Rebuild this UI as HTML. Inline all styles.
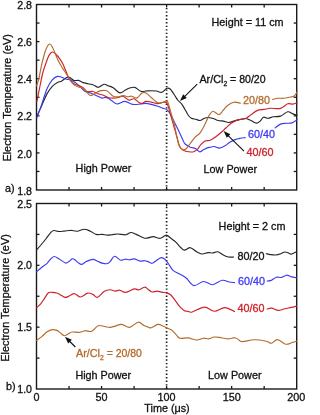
<!DOCTYPE html>
<html><head><meta charset="utf-8"><style>
html,body{margin:0;padding:0;background:#fff;width:306px;height:415px;overflow:hidden;}
svg{will-change:transform;}
text{font-family:"Liberation Sans", sans-serif;stroke-width:0.3px;}
</style></head><body><svg width="306" height="415" viewBox="0 0 306 415" style="display:block;font-family:'Liberation Sans', sans-serif"><rect x="36.50" y="4.50" width="260.20" height="185.50" fill="none" stroke="#1a1a1a" stroke-width="1.40"/><line x1="69.03" y1="190.00" x2="69.03" y2="187.00" stroke="#1a1a1a" stroke-width="1.3"/><line x1="69.03" y1="4.50" x2="69.03" y2="7.50" stroke="#1a1a1a" stroke-width="1.3"/><line x1="101.55" y1="190.00" x2="101.55" y2="187.00" stroke="#1a1a1a" stroke-width="1.3"/><line x1="101.55" y1="4.50" x2="101.55" y2="7.50" stroke="#1a1a1a" stroke-width="1.3"/><line x1="134.07" y1="190.00" x2="134.07" y2="187.00" stroke="#1a1a1a" stroke-width="1.3"/><line x1="134.07" y1="4.50" x2="134.07" y2="7.50" stroke="#1a1a1a" stroke-width="1.3"/><line x1="166.60" y1="190.00" x2="166.60" y2="187.00" stroke="#1a1a1a" stroke-width="1.3"/><line x1="166.60" y1="4.50" x2="166.60" y2="7.50" stroke="#1a1a1a" stroke-width="1.3"/><line x1="199.12" y1="190.00" x2="199.12" y2="187.00" stroke="#1a1a1a" stroke-width="1.3"/><line x1="199.12" y1="4.50" x2="199.12" y2="7.50" stroke="#1a1a1a" stroke-width="1.3"/><line x1="231.65" y1="190.00" x2="231.65" y2="187.00" stroke="#1a1a1a" stroke-width="1.3"/><line x1="231.65" y1="4.50" x2="231.65" y2="7.50" stroke="#1a1a1a" stroke-width="1.3"/><line x1="264.18" y1="190.00" x2="264.18" y2="187.00" stroke="#1a1a1a" stroke-width="1.3"/><line x1="264.18" y1="4.50" x2="264.18" y2="7.50" stroke="#1a1a1a" stroke-width="1.3"/><line x1="36.50" y1="23.05" x2="39.50" y2="23.05" stroke="#1a1a1a" stroke-width="1.3"/><line x1="296.70" y1="23.05" x2="293.70" y2="23.05" stroke="#1a1a1a" stroke-width="1.3"/><line x1="36.50" y1="41.60" x2="39.50" y2="41.60" stroke="#1a1a1a" stroke-width="1.3"/><line x1="296.70" y1="41.60" x2="293.70" y2="41.60" stroke="#1a1a1a" stroke-width="1.3"/><line x1="36.50" y1="60.15" x2="39.50" y2="60.15" stroke="#1a1a1a" stroke-width="1.3"/><line x1="296.70" y1="60.15" x2="293.70" y2="60.15" stroke="#1a1a1a" stroke-width="1.3"/><line x1="36.50" y1="78.70" x2="39.50" y2="78.70" stroke="#1a1a1a" stroke-width="1.3"/><line x1="296.70" y1="78.70" x2="293.70" y2="78.70" stroke="#1a1a1a" stroke-width="1.3"/><line x1="36.50" y1="97.25" x2="39.50" y2="97.25" stroke="#1a1a1a" stroke-width="1.3"/><line x1="296.70" y1="97.25" x2="293.70" y2="97.25" stroke="#1a1a1a" stroke-width="1.3"/><line x1="36.50" y1="115.80" x2="39.50" y2="115.80" stroke="#1a1a1a" stroke-width="1.3"/><line x1="296.70" y1="115.80" x2="293.70" y2="115.80" stroke="#1a1a1a" stroke-width="1.3"/><line x1="36.50" y1="134.35" x2="39.50" y2="134.35" stroke="#1a1a1a" stroke-width="1.3"/><line x1="296.70" y1="134.35" x2="293.70" y2="134.35" stroke="#1a1a1a" stroke-width="1.3"/><line x1="36.50" y1="152.90" x2="39.50" y2="152.90" stroke="#1a1a1a" stroke-width="1.3"/><line x1="296.70" y1="152.90" x2="293.70" y2="152.90" stroke="#1a1a1a" stroke-width="1.3"/><line x1="36.50" y1="171.45" x2="39.50" y2="171.45" stroke="#1a1a1a" stroke-width="1.3"/><line x1="296.70" y1="171.45" x2="293.70" y2="171.45" stroke="#1a1a1a" stroke-width="1.3"/><line x1="166.60" y1="7.90" x2="166.60" y2="190.00" stroke="#1a1a1a" stroke-width="1.7" stroke-dasharray="1.4,2.145"/><rect x="36.50" y="203.50" width="260.20" height="185.50" fill="none" stroke="#1a1a1a" stroke-width="1.40"/><line x1="69.03" y1="389.00" x2="69.03" y2="386.00" stroke="#1a1a1a" stroke-width="1.3"/><line x1="69.03" y1="203.50" x2="69.03" y2="206.50" stroke="#1a1a1a" stroke-width="1.3"/><line x1="101.55" y1="389.00" x2="101.55" y2="386.00" stroke="#1a1a1a" stroke-width="1.3"/><line x1="101.55" y1="203.50" x2="101.55" y2="206.50" stroke="#1a1a1a" stroke-width="1.3"/><line x1="134.07" y1="389.00" x2="134.07" y2="386.00" stroke="#1a1a1a" stroke-width="1.3"/><line x1="134.07" y1="203.50" x2="134.07" y2="206.50" stroke="#1a1a1a" stroke-width="1.3"/><line x1="166.60" y1="389.00" x2="166.60" y2="386.00" stroke="#1a1a1a" stroke-width="1.3"/><line x1="166.60" y1="203.50" x2="166.60" y2="206.50" stroke="#1a1a1a" stroke-width="1.3"/><line x1="199.12" y1="389.00" x2="199.12" y2="386.00" stroke="#1a1a1a" stroke-width="1.3"/><line x1="199.12" y1="203.50" x2="199.12" y2="206.50" stroke="#1a1a1a" stroke-width="1.3"/><line x1="231.65" y1="389.00" x2="231.65" y2="386.00" stroke="#1a1a1a" stroke-width="1.3"/><line x1="231.65" y1="203.50" x2="231.65" y2="206.50" stroke="#1a1a1a" stroke-width="1.3"/><line x1="264.18" y1="389.00" x2="264.18" y2="386.00" stroke="#1a1a1a" stroke-width="1.3"/><line x1="264.18" y1="203.50" x2="264.18" y2="206.50" stroke="#1a1a1a" stroke-width="1.3"/><line x1="36.50" y1="234.42" x2="39.50" y2="234.42" stroke="#1a1a1a" stroke-width="1.3"/><line x1="296.70" y1="234.42" x2="293.70" y2="234.42" stroke="#1a1a1a" stroke-width="1.3"/><line x1="36.50" y1="265.33" x2="39.50" y2="265.33" stroke="#1a1a1a" stroke-width="1.3"/><line x1="296.70" y1="265.33" x2="293.70" y2="265.33" stroke="#1a1a1a" stroke-width="1.3"/><line x1="36.50" y1="296.25" x2="39.50" y2="296.25" stroke="#1a1a1a" stroke-width="1.3"/><line x1="296.70" y1="296.25" x2="293.70" y2="296.25" stroke="#1a1a1a" stroke-width="1.3"/><line x1="36.50" y1="327.17" x2="39.50" y2="327.17" stroke="#1a1a1a" stroke-width="1.3"/><line x1="296.70" y1="327.17" x2="293.70" y2="327.17" stroke="#1a1a1a" stroke-width="1.3"/><line x1="36.50" y1="358.08" x2="39.50" y2="358.08" stroke="#1a1a1a" stroke-width="1.3"/><line x1="296.70" y1="358.08" x2="293.70" y2="358.08" stroke="#1a1a1a" stroke-width="1.3"/><line x1="166.60" y1="206.90" x2="166.60" y2="389.00" stroke="#1a1a1a" stroke-width="1.7" stroke-dasharray="1.4,2.145"/><path d="M36.60,117.00 C37.47,115.07 40.05,109.30 41.80,105.40 C43.55,101.50 45.35,96.77 47.10,93.60 C48.85,90.43 50.57,88.25 52.30,86.40 C54.03,84.55 55.97,83.37 57.50,82.50 C59.03,81.63 60.08,81.97 61.50,81.20 C62.92,80.43 64.70,78.55 66.00,77.90 C67.30,77.25 67.97,76.87 69.30,77.30 C70.63,77.73 72.47,79.98 74.00,80.50 C75.53,81.02 76.98,80.05 78.50,80.40 C80.02,80.75 81.47,82.05 83.10,82.60 C84.73,83.15 86.57,83.30 88.30,83.70 C90.03,84.10 91.87,84.40 93.50,85.00 C95.13,85.60 96.35,87.42 98.10,87.30 C99.85,87.18 102.35,84.57 104.00,84.30 C105.65,84.03 106.47,85.13 108.00,85.70 C109.53,86.27 111.23,86.50 113.20,87.70 C115.17,88.90 117.83,92.47 119.80,92.90 C121.77,93.33 123.48,91.07 125.00,90.30 C126.52,89.53 127.27,88.78 128.90,88.30 C130.53,87.82 132.83,86.90 134.80,87.40 C136.77,87.90 138.83,90.70 140.70,91.30 C142.57,91.90 144.25,91.10 146.00,91.00 C147.75,90.90 149.45,90.70 151.20,90.70 C152.95,90.70 154.75,90.73 156.50,91.00 C158.25,91.27 159.97,92.75 161.70,92.30 C163.43,91.85 165.48,88.85 166.90,88.30 C168.32,87.75 168.88,87.80 170.20,89.00 C171.52,90.20 173.55,93.67 174.80,95.50 C176.05,97.33 176.57,98.60 177.70,100.00 C178.83,101.40 180.40,102.37 181.60,103.90 C182.80,105.43 183.82,107.35 184.90,109.20 C185.98,111.05 187.02,113.48 188.10,115.00 C189.18,116.52 190.08,117.58 191.40,118.30 C192.72,119.02 194.57,118.93 196.00,119.30 C197.43,119.67 198.68,120.63 200.00,120.50 C201.32,120.37 202.60,119.00 203.90,118.50 C205.20,118.00 206.27,117.50 207.80,117.50 C209.33,117.50 211.35,118.00 213.10,118.50 C214.85,119.00 216.57,120.07 218.30,120.50 C220.03,120.93 221.75,120.77 223.50,121.10 C225.25,121.43 226.83,122.60 228.80,122.50 C230.77,122.40 233.43,121.00 235.30,120.50 C237.17,120.00 238.25,119.83 240.00,119.50 C241.75,119.17 243.95,118.33 245.80,118.50 C247.65,118.67 249.35,119.73 251.10,120.50 C252.85,121.27 254.78,123.00 256.30,123.10 C257.82,123.20 259.00,122.08 260.20,121.10 C261.40,120.12 262.18,117.67 263.50,117.20 C264.82,116.73 266.48,118.37 268.10,118.30 C269.72,118.23 271.13,117.17 273.20,116.80 C275.27,116.43 278.08,116.93 280.50,116.10 C282.92,115.27 285.65,112.17 287.70,111.80 C289.75,111.43 291.23,113.30 292.80,113.90 C294.37,114.50 296.38,115.15 297.10,115.40" fill="none" stroke="#262626" stroke-width="1.15" stroke-linejoin="round" stroke-linecap="round"/><path d="M36.90,117.80 C37.72,115.52 40.10,109.00 41.80,104.10 C43.50,99.20 45.35,92.43 47.10,88.40 C48.85,84.37 50.57,81.90 52.30,79.90 C54.03,77.90 55.97,76.83 57.50,76.40 C59.03,75.97 59.97,76.83 61.50,77.30 C63.03,77.77 65.28,78.82 66.70,79.20 C68.12,79.58 68.58,79.07 70.00,79.60 C71.42,80.13 73.57,81.28 75.20,82.40 C76.83,83.52 78.27,84.88 79.80,86.30 C81.33,87.72 82.77,89.82 84.40,90.90 C86.03,91.98 87.65,92.03 89.60,92.80 C91.55,93.57 94.03,94.62 96.10,95.50 C98.17,96.38 100.47,97.78 102.00,98.10 C103.53,98.42 104.30,97.40 105.30,97.40 C106.30,97.40 106.90,97.53 108.00,98.10 C109.10,98.67 110.37,99.82 111.90,100.80 C113.43,101.78 115.02,103.90 117.20,104.00 C119.38,104.10 122.40,101.33 125.00,101.40 C127.60,101.47 130.18,103.97 132.80,104.40 C135.42,104.83 138.50,104.17 140.70,104.00 C142.90,103.83 144.25,103.33 146.00,103.40 C147.75,103.47 149.23,103.93 151.20,104.40 C153.17,104.87 155.83,105.55 157.80,106.20 C159.77,106.85 161.48,107.73 163.00,108.30 C164.52,108.87 165.77,108.80 166.90,109.60 C168.03,110.40 168.77,111.43 169.80,113.10 C170.83,114.77 171.78,116.98 173.10,119.60 C174.42,122.22 176.07,125.40 177.70,128.80 C179.33,132.20 181.67,137.47 182.90,140.00 C184.13,142.53 183.87,142.80 185.10,144.00 C186.33,145.20 188.57,146.45 190.30,147.20 C192.03,147.95 193.97,147.73 195.50,148.50 C197.03,149.27 198.18,151.58 199.50,151.80 C200.82,152.02 202.10,150.45 203.40,149.80 C204.70,149.15 206.17,148.33 207.30,147.90 C208.43,147.47 209.05,147.43 210.20,147.20 C211.35,146.97 212.67,146.35 214.20,146.50 C215.73,146.65 217.67,148.17 219.40,148.10 C221.13,148.03 222.87,147.08 224.60,146.10 C226.33,145.12 228.05,143.28 229.80,142.20 C231.55,141.12 233.35,140.25 235.10,139.60 C236.85,138.95 238.62,138.63 240.30,138.30 C241.98,137.97 244.38,137.72 245.20,137.60" fill="none" stroke="#3b3bf0" stroke-width="1.15" stroke-linejoin="round" stroke-linecap="round"/><path d="M275.30,127.80 C276.17,127.18 278.67,124.85 280.50,124.10 C282.33,123.35 284.38,123.50 286.30,123.30 C288.22,123.10 290.20,123.50 292.00,122.90 C293.80,122.30 296.25,120.23 297.10,119.70" fill="none" stroke="#3b3bf0" stroke-width="1.15" stroke-linejoin="round" stroke-linecap="round"/><path d="M36.90,101.50 C37.42,98.92 38.98,90.92 40.00,86.00 C41.02,81.08 42.00,75.83 43.00,72.00 C44.00,68.17 45.00,65.77 46.00,63.00 C47.00,60.23 47.95,57.23 49.00,55.40 C50.05,53.57 51.20,52.23 52.30,52.00 C53.40,51.77 54.40,52.95 55.60,54.00 C56.80,55.05 58.28,56.62 59.50,58.30 C60.72,59.98 61.78,61.85 62.90,64.10 C64.02,66.35 65.17,69.40 66.20,71.80 C67.23,74.20 68.12,76.73 69.10,78.50 C70.08,80.27 70.95,81.37 72.10,82.40 C73.25,83.43 74.68,84.10 76.00,84.70 C77.32,85.30 78.82,85.52 80.00,86.00 C81.18,86.48 81.93,86.68 83.10,87.60 C84.27,88.52 85.37,90.85 87.00,91.50 C88.63,92.15 91.15,91.17 92.90,91.50 C94.65,91.83 95.65,92.83 97.50,93.50 C99.35,94.17 102.25,94.83 104.00,95.50 C105.75,96.17 106.47,97.07 108.00,97.50 C109.53,97.93 111.45,98.10 113.20,98.10 C114.95,98.10 116.87,97.82 118.50,97.50 C120.13,97.18 121.27,95.77 123.00,96.20 C124.73,96.63 127.05,99.67 128.90,100.10 C130.75,100.53 132.13,98.25 134.10,98.80 C136.07,99.35 138.72,102.97 140.70,103.40 C142.68,103.83 144.25,101.62 146.00,101.40 C147.75,101.18 149.23,101.73 151.20,102.10 C153.17,102.47 155.83,103.57 157.80,103.60 C159.77,103.63 161.58,102.48 163.00,102.30 C164.42,102.12 165.38,101.68 166.30,102.50 C167.22,103.32 167.68,104.78 168.50,107.20 C169.32,109.62 170.32,113.85 171.20,117.00 C172.08,120.15 172.93,123.05 173.80,126.10 C174.67,129.15 175.40,131.88 176.40,135.30 C177.40,138.72 178.57,144.07 179.80,146.60 C181.03,149.13 182.27,149.63 183.80,150.50 C185.33,151.37 187.37,151.58 189.00,151.80 C190.63,152.02 192.18,152.23 193.60,151.80 C195.02,151.37 196.30,150.40 197.50,149.20 C198.70,148.00 199.55,145.98 200.80,144.60 C202.05,143.22 203.43,141.62 205.00,140.90 C206.57,140.18 208.45,140.95 210.20,140.30 C211.95,139.65 213.75,138.25 215.50,137.00 C217.25,135.75 218.97,134.30 220.70,132.80 C222.43,131.30 224.10,129.63 225.90,128.00 C227.70,126.37 229.75,124.25 231.50,123.00 C233.25,121.75 234.98,121.08 236.40,120.50 C237.82,119.92 238.43,119.83 240.00,119.50 C241.57,119.17 243.95,119.32 245.80,118.50 C247.65,117.68 249.13,115.95 251.10,114.60 C253.07,113.25 255.43,111.27 257.60,110.40 C259.77,109.53 261.92,109.75 264.10,109.40 C266.28,109.05 267.97,108.47 270.70,108.30 C273.43,108.13 277.67,109.15 280.50,108.40 C283.33,107.65 285.65,104.52 287.70,103.80 C289.75,103.08 291.23,104.28 292.80,104.10 C294.37,103.92 296.38,102.93 297.10,102.70" fill="none" stroke="#cc2229" stroke-width="1.15" stroke-linejoin="round" stroke-linecap="round"/><path d="M36.60,86.00 C37.00,84.67 38.13,81.65 39.00,78.00 C39.87,74.35 40.67,68.80 41.80,64.10 C42.93,59.40 44.48,53.15 45.80,49.80 C47.12,46.45 48.55,44.35 49.70,44.00 C50.85,43.65 51.72,45.95 52.70,47.70 C53.68,49.45 54.63,52.25 55.60,54.50 C56.57,56.75 57.37,58.97 58.50,61.20 C59.63,63.43 61.12,65.82 62.40,67.90 C63.68,69.98 65.08,71.93 66.20,73.70 C67.32,75.47 67.85,76.68 69.10,78.50 C70.35,80.32 72.02,83.15 73.70,84.60 C75.38,86.05 77.82,86.70 79.20,87.20 C80.58,87.70 80.92,86.98 82.00,87.60 C83.08,88.22 84.32,89.58 85.70,90.90 C87.08,92.22 88.78,95.07 90.30,95.50 C91.82,95.93 93.18,94.27 94.80,93.50 C96.42,92.73 98.25,91.40 100.00,90.90 C101.75,90.40 103.97,90.38 105.30,90.50 C106.63,90.62 106.68,90.65 108.00,91.60 C109.32,92.55 111.45,95.33 113.20,96.20 C114.95,97.07 116.75,96.92 118.50,96.80 C120.25,96.68 122.18,95.50 123.70,95.50 C125.22,95.50 126.30,96.68 127.60,96.80 C128.90,96.92 129.97,95.98 131.50,96.20 C133.03,96.42 135.05,98.65 136.80,98.10 C138.55,97.55 140.47,93.77 142.00,92.90 C143.53,92.03 144.47,92.13 146.00,92.90 C147.53,93.67 149.23,95.87 151.20,97.50 C153.17,99.13 155.83,101.90 157.80,102.70 C159.77,103.50 161.48,102.62 163.00,102.30 C164.52,101.98 165.87,100.10 166.90,100.80 C167.93,101.50 168.38,104.02 169.20,106.50 C170.02,108.98 170.93,112.65 171.80,115.70 C172.67,118.75 173.60,121.50 174.40,124.80 C175.20,128.10 175.80,131.98 176.60,135.50 C177.40,139.02 178.12,143.52 179.20,145.90 C180.28,148.28 181.90,149.37 183.10,149.80 C184.30,150.23 185.20,149.58 186.40,148.50 C187.60,147.42 188.88,145.15 190.30,143.30 C191.72,141.45 193.27,139.15 194.90,137.40 C196.53,135.65 198.38,135.07 200.10,132.80 C201.82,130.53 203.68,126.72 205.20,123.80 C206.72,120.88 207.88,117.38 209.20,115.30 C210.52,113.22 211.47,111.42 213.10,111.30 C214.73,111.18 217.37,114.70 219.00,114.60 C220.63,114.50 221.48,112.22 222.90,110.70 C224.32,109.18 225.65,106.92 227.50,105.50 C229.35,104.08 231.83,102.58 234.00,102.20 C236.17,101.82 239.42,103.03 240.50,103.20" fill="none" stroke="#b36b2b" stroke-width="1.15" stroke-linejoin="round" stroke-linecap="round"/><path d="M272.50,99.50 C273.35,99.30 275.78,98.50 277.60,98.30 C279.42,98.10 281.47,98.47 283.40,98.30 C285.33,98.13 287.40,97.70 289.20,97.30 C291.00,96.90 292.88,96.80 294.20,95.90 C295.52,95.00 296.62,92.57 297.10,91.90" fill="none" stroke="#b36b2b" stroke-width="1.15" stroke-linejoin="round" stroke-linecap="round"/><path d="M36.60,250.00 C37.25,249.25 38.97,247.33 40.50,245.50 C42.03,243.67 44.17,241.07 45.80,239.00 C47.43,236.93 49.00,234.52 50.30,233.10 C51.60,231.68 52.18,230.77 53.60,230.50 C55.02,230.23 57.05,231.40 58.80,231.50 C60.55,231.60 62.35,231.27 64.10,231.10 C65.85,230.93 67.98,230.60 69.30,230.50 C70.62,230.40 70.68,230.38 72.00,230.50 C73.32,230.62 75.13,231.42 77.20,231.20 C79.27,230.98 82.22,229.20 84.40,229.20 C86.58,229.20 88.33,230.33 90.30,231.20 C92.27,232.07 94.23,233.87 96.20,234.40 C98.17,234.93 100.25,234.28 102.10,234.40 C103.95,234.52 105.65,235.05 107.30,235.10 C108.95,235.15 110.25,234.88 112.00,234.70 C113.75,234.52 115.52,233.98 117.80,234.00 C120.08,234.02 123.52,235.05 125.70,234.80 C127.88,234.55 129.17,232.57 130.90,232.50 C132.63,232.43 133.92,233.48 136.10,234.40 C138.28,235.32 142.02,237.42 144.00,238.00 C145.98,238.58 146.47,238.13 148.00,237.90 C149.53,237.67 151.13,236.53 153.20,236.60 C155.27,236.67 158.22,238.55 160.40,238.30 C162.58,238.05 164.55,235.10 166.30,235.10 C168.05,235.10 169.27,237.10 170.90,238.30 C172.53,239.50 174.47,240.77 176.10,242.30 C177.73,243.83 179.28,246.20 180.70,247.50 C182.12,248.80 182.98,250.07 184.60,250.10 C186.22,250.13 188.40,247.42 190.40,247.70 C192.40,247.98 194.68,250.75 196.60,251.80 C198.52,252.85 200.00,253.87 201.90,254.00 C203.80,254.13 206.23,252.77 208.00,252.60 C209.77,252.43 210.88,253.13 212.50,253.00 C214.12,252.87 215.95,251.50 217.70,251.80 C219.45,252.10 221.23,253.93 223.00,254.80 C224.77,255.67 226.53,256.63 228.30,257.00 C230.07,257.37 232.72,257.00 233.60,257.00" fill="none" stroke="#262626" stroke-width="1.15" stroke-linejoin="round" stroke-linecap="round"/><path d="M266.30,253.70 C267.00,253.85 268.93,254.38 270.50,254.60 C272.07,254.82 273.97,255.15 275.70,255.00 C277.43,254.85 279.38,254.20 280.90,253.70 C282.42,253.20 283.60,252.15 284.80,252.00 C286.00,251.85 287.00,252.45 288.10,252.80 C289.20,253.15 290.00,254.27 291.40,254.10 C292.80,253.93 295.65,252.18 296.50,251.80" fill="none" stroke="#262626" stroke-width="1.15" stroke-linejoin="round" stroke-linecap="round"/><path d="M36.60,271.80 C37.47,271.03 40.05,268.62 41.80,267.20 C43.55,265.78 45.57,264.72 47.10,263.30 C48.63,261.88 49.80,259.83 51.00,258.70 C52.20,257.57 53.00,256.50 54.30,256.50 C55.60,256.50 56.95,257.62 58.80,258.70 C60.65,259.78 63.65,262.57 65.40,263.00 C67.15,263.43 68.20,261.98 69.30,261.30 C70.40,260.62 71.12,259.22 72.00,258.90 C72.88,258.58 73.62,258.82 74.60,259.40 C75.58,259.98 76.70,261.57 77.90,262.40 C79.10,263.23 80.38,264.55 81.80,264.40 C83.22,264.25 84.55,262.33 86.40,261.50 C88.25,260.67 90.95,259.40 92.90,259.40 C94.85,259.40 96.57,260.88 98.10,261.50 C99.63,262.12 100.68,262.73 102.10,263.10 C103.52,263.47 105.30,263.92 106.60,263.70 C107.90,263.48 108.57,263.03 109.90,261.80 C111.23,260.57 112.83,256.57 114.60,256.30 C116.37,256.03 118.77,259.72 120.50,260.20 C122.23,260.68 123.48,259.27 125.00,259.20 C126.52,259.13 128.07,259.85 129.60,259.80 C131.13,259.75 132.45,258.68 134.20,258.90 C135.95,259.12 138.37,260.80 140.10,261.10 C141.83,261.40 143.28,260.62 144.60,260.70 C145.92,260.78 146.78,261.17 148.00,261.60 C149.22,262.03 150.60,263.42 151.90,263.30 C153.20,263.18 154.27,261.85 155.80,260.90 C157.33,259.95 159.57,257.87 161.10,257.60 C162.63,257.33 163.80,258.32 165.00,259.30 C166.20,260.28 167.00,261.70 168.30,263.50 C169.60,265.30 171.17,268.47 172.80,270.10 C174.43,271.73 176.35,272.32 178.10,273.30 C179.85,274.28 181.82,275.08 183.30,276.00 C184.78,276.92 185.23,277.20 187.00,278.80 C188.77,280.40 191.13,285.15 193.90,285.60 C196.67,286.05 200.50,281.65 203.60,281.50 C206.70,281.35 209.40,284.90 212.50,284.70 C215.60,284.50 219.42,280.75 222.20,280.30 C224.98,279.85 227.15,281.62 229.20,282.00 C231.25,282.38 233.62,282.50 234.50,282.60" fill="none" stroke="#3b3bf0" stroke-width="1.15" stroke-linejoin="round" stroke-linecap="round"/><path d="M267.20,281.10 C267.85,280.98 269.58,281.05 271.10,280.40 C272.62,279.75 274.55,277.70 276.30,277.20 C278.05,276.70 279.85,277.73 281.60,277.40 C283.35,277.07 285.17,275.28 286.80,275.20 C288.43,275.12 289.78,276.47 291.40,276.90 C293.02,277.33 295.65,277.65 296.50,277.80" fill="none" stroke="#3b3bf0" stroke-width="1.15" stroke-linejoin="round" stroke-linecap="round"/><path d="M36.60,307.70 C37.25,307.12 39.18,305.77 40.50,304.20 C41.82,302.63 43.18,300.20 44.50,298.30 C45.82,296.40 47.10,293.78 48.40,292.80 C49.70,291.82 50.78,292.32 52.30,292.40 C53.82,292.48 55.97,292.80 57.50,293.30 C59.03,293.80 60.18,294.72 61.50,295.40 C62.82,296.08 64.10,297.30 65.40,297.40 C66.70,297.50 67.77,296.62 69.30,296.00 C70.83,295.38 72.73,293.53 74.60,293.70 C76.47,293.87 78.32,297.10 80.50,297.00 C82.68,296.90 85.63,293.53 87.70,293.10 C89.77,292.67 91.27,293.70 92.90,294.40 C94.53,295.10 95.65,297.78 97.50,297.30 C99.35,296.82 101.92,292.75 104.00,291.50 C106.08,290.25 108.13,289.87 110.00,289.80 C111.87,289.73 113.57,291.03 115.20,291.10 C116.83,291.17 118.05,289.98 119.80,290.20 C121.55,290.42 123.30,292.62 125.70,292.40 C128.10,292.18 132.02,289.33 134.20,288.90 C136.38,288.47 137.07,290.08 138.80,289.80 C140.53,289.52 143.07,287.30 144.60,287.20 C146.13,287.10 146.78,288.40 148.00,289.20 C149.22,290.00 150.37,291.68 151.90,292.00 C153.43,292.32 155.45,291.03 157.20,291.10 C158.95,291.17 160.88,292.12 162.40,292.40 C163.92,292.68 164.88,292.37 166.30,292.80 C167.72,293.23 169.37,293.65 170.90,295.00 C172.43,296.35 173.98,298.93 175.50,300.90 C177.02,302.87 178.48,305.17 180.00,306.80 C181.52,308.43 183.27,309.93 184.60,310.70 C185.93,311.47 186.73,311.18 188.00,311.40 C189.27,311.62 189.45,312.72 192.20,312.00 C194.95,311.28 200.83,307.23 204.50,307.10 C208.17,306.97 210.82,311.12 214.20,311.20 C217.58,311.28 221.42,307.55 224.80,307.60 C228.18,307.65 232.88,310.85 234.50,311.50" fill="none" stroke="#cc2229" stroke-width="1.15" stroke-linejoin="round" stroke-linecap="round"/><path d="M267.20,309.10 C267.97,308.93 269.95,307.88 271.80,308.10 C273.65,308.32 276.13,310.30 278.30,310.40 C280.47,310.50 282.62,309.20 284.80,308.70 C286.98,308.20 289.45,307.83 291.40,307.40 C293.35,306.97 295.65,306.32 296.50,306.10" fill="none" stroke="#cc2229" stroke-width="1.15" stroke-linejoin="round" stroke-linecap="round"/><path d="M36.60,340.50 C37.47,339.85 40.05,338.07 41.80,336.60 C43.55,335.13 45.35,332.87 47.10,331.70 C48.85,330.53 50.67,329.82 52.30,329.60 C53.93,329.38 55.60,329.90 56.90,330.40 C58.20,330.90 58.90,331.72 60.10,332.60 C61.30,333.48 62.78,335.47 64.10,335.70 C65.42,335.93 66.68,334.62 68.00,334.00 C69.32,333.38 70.03,332.28 72.00,332.00 C73.97,331.72 77.62,332.52 79.80,332.30 C81.98,332.08 83.13,330.87 85.10,330.70 C87.07,330.53 89.43,332.13 91.60,331.30 C93.77,330.47 95.92,326.50 98.10,325.70 C100.28,324.90 102.72,326.22 104.70,326.50 C106.68,326.78 108.25,327.47 110.00,327.40 C111.75,327.33 113.23,326.60 115.20,326.10 C117.17,325.60 119.40,324.18 121.80,324.40 C124.20,324.62 126.88,327.77 129.60,327.40 C132.32,327.03 135.70,322.52 138.10,322.20 C140.50,321.88 142.35,324.70 144.00,325.50 C145.65,326.30 146.78,326.62 148.00,327.00 C149.22,327.38 149.67,328.23 151.30,327.80 C152.93,327.37 155.95,324.75 157.80,324.40 C159.65,324.05 160.98,325.13 162.40,325.70 C163.82,326.27 164.78,327.08 166.30,327.80 C167.82,328.52 169.87,328.87 171.50,330.00 C173.13,331.13 174.68,333.22 176.10,334.60 C177.52,335.98 178.02,337.75 180.00,338.30 C181.98,338.85 185.23,337.62 188.00,337.90 C190.77,338.18 194.00,339.95 196.60,340.00 C199.20,340.05 201.55,338.40 203.60,338.20 C205.65,338.00 207.13,339.00 208.90,338.80 C210.67,338.60 212.13,337.18 214.20,337.00 C216.27,336.82 218.95,337.40 221.30,337.70 C223.65,338.00 226.10,338.80 228.30,338.80 C230.50,338.80 232.88,337.63 234.50,337.70 C236.12,337.77 236.75,338.55 238.00,339.20 C239.25,339.85 239.30,341.50 242.00,341.60 C244.70,341.70 250.15,339.87 254.20,339.80 C258.25,339.73 263.43,340.63 266.30,341.20 C269.17,341.77 269.53,343.47 271.40,343.20 C273.27,342.93 275.13,339.43 277.50,339.60 C279.87,339.77 283.25,343.67 285.60,344.20 C287.95,344.73 289.78,343.30 291.60,342.80 C293.42,342.30 295.68,341.47 296.50,341.20" fill="none" stroke="#b36b2b" stroke-width="1.15" stroke-linejoin="round" stroke-linecap="round"/><line x1="197.20" y1="84.20" x2="184.28" y2="96.89" stroke="#111" stroke-width="1.10"/><polygon points="180.00,101.10 183.17,94.34 186.82,98.05" fill="#111"/><line x1="244.00" y1="151.10" x2="227.88" y2="135.30" stroke="#111" stroke-width="1.10"/><polygon points="223.60,131.10 230.42,134.14 226.78,137.86" fill="#111"/><line x1="75.40" y1="347.00" x2="69.28" y2="341.00" stroke="#111" stroke-width="1.10"/><polygon points="65.00,336.80 71.82,339.85 68.18,343.56" fill="#111"/><text x="32.00" y="8.80" fill="#111" stroke="#111" stroke-width="0.30" text-anchor="end" font-size="10.60" >2.8</text><text x="32.00" y="45.90" fill="#111" stroke="#111" stroke-width="0.30" text-anchor="end" font-size="10.60" >2.6</text><text x="32.00" y="83.10" fill="#111" stroke="#111" stroke-width="0.30" text-anchor="end" font-size="10.60" >2.4</text><text x="32.00" y="120.30" fill="#111" stroke="#111" stroke-width="0.30" text-anchor="end" font-size="10.60" >2.2</text><text x="32.00" y="157.50" fill="#111" stroke="#111" stroke-width="0.30" text-anchor="end" font-size="10.60" >2.0</text><text x="32.00" y="194.70" fill="#111" stroke="#111" stroke-width="0.30" text-anchor="end" font-size="10.60" >1.8</text><text x="32.00" y="207.60" fill="#111" stroke="#111" stroke-width="0.30" text-anchor="end" font-size="10.60" >2.5</text><text x="32.00" y="269.40" fill="#111" stroke="#111" stroke-width="0.30" text-anchor="end" font-size="10.60" >2.0</text><text x="32.00" y="331.30" fill="#111" stroke="#111" stroke-width="0.30" text-anchor="end" font-size="10.60" >1.5</text><text x="32.00" y="393.30" fill="#111" stroke="#111" stroke-width="0.30" text-anchor="end" font-size="10.60" >1.0</text><text x="36.50" y="401.20" fill="#111" stroke="#111" stroke-width="0.30" text-anchor="middle" font-size="10.80" >0</text><text x="101.55" y="401.20" fill="#111" stroke="#111" stroke-width="0.30" text-anchor="middle" font-size="10.80" >50</text><text x="166.60" y="401.20" fill="#111" stroke="#111" stroke-width="0.30" text-anchor="middle" font-size="10.80" >100</text><text x="231.65" y="401.20" fill="#111" stroke="#111" stroke-width="0.30" text-anchor="middle" font-size="10.80" >150</text><text x="296.18" y="401.20" fill="#111" stroke="#111" stroke-width="0.30" text-anchor="middle" font-size="10.80" >200</text><text x="167.00" y="412.00" fill="#111" stroke="#111" stroke-width="0.30" text-anchor="middle" font-size="10.80" >Time (&#956;s)</text><text transform="translate(10.80,97.80) rotate(-90)" x="0" y="0" text-anchor="middle" font-size="10.90" fill="#111" stroke="#111">Electron Temperature (eV)</text><text transform="translate(9.00,297.95) rotate(-90)" x="0" y="0" text-anchor="middle" font-size="10.90" fill="#111" stroke="#111">Electron Temperature (eV)</text><text x="5.00" y="191.70" fill="#111" stroke="#111" stroke-width="0.30" text-anchor="start" font-size="10.80" >a)</text><text x="5.90" y="390.30" fill="#111" stroke="#111" stroke-width="0.30" text-anchor="start" font-size="10.80" >b)</text><text x="211.50" y="26.40" fill="#111" stroke="#111" stroke-width="0.30" text-anchor="start" font-size="10.80" >Height = 11 cm</text><text x="218.60" y="229.60" fill="#111" stroke="#111" stroke-width="0.30" text-anchor="start" font-size="10.80" >Height = 2 cm</text><text x="75.60" y="172.30" fill="#111" stroke="#111" stroke-width="0.30" text-anchor="start" font-size="10.80" >High Power</text><text x="203.60" y="172.50" fill="#111" stroke="#111" stroke-width="0.30" text-anchor="start" font-size="10.80" >Low Power</text><text x="75.40" y="378.90" fill="#111" stroke="#111" stroke-width="0.30" text-anchor="start" font-size="10.80" >High Power</text><text x="208.10" y="379.30" fill="#111" stroke="#111" stroke-width="0.30" text-anchor="start" font-size="10.80" >Low Power</text><text x="199.4" y="83.0" font-size="10.80" fill="#111" stroke="#111">Ar/Cl<tspan font-size="6.8" dy="3.2">2</tspan><tspan dy="-3.2" font-size="10.55"> = 80/20</tspan></text><text x="76" y="356.7" font-size="10.80" fill="#b36b2b" stroke="#b36b2b" stroke-width="0.15">Ar/Cl<tspan font-size="6.8" dy="3.2">2</tspan><tspan dy="-3.2" font-size="10.45"> = 20/80</tspan></text><text x="243.10" y="103.70" fill="#b36b2b" stroke="#b36b2b" stroke-width="0.15" text-anchor="start" font-size="10.80" >20/80</text><text x="247.90" y="137.90" fill="#3b3bf0" stroke="#3b3bf0" stroke-width="0.15" text-anchor="start" font-size="10.80" >60/40</text><text x="246.40" y="155.80" fill="#cc2229" stroke="#cc2229" stroke-width="0.15" text-anchor="start" font-size="10.80" >40/60</text><text x="237.40" y="260.00" fill="#111" stroke="#111" stroke-width="0.30" text-anchor="start" font-size="10.80" >80/20</text><text x="237.90" y="285.10" fill="#3b3bf0" stroke="#3b3bf0" stroke-width="0.15" text-anchor="start" font-size="10.80" >60/40</text><text x="237.50" y="311.70" fill="#cc2229" stroke="#cc2229" stroke-width="0.15" text-anchor="start" font-size="10.80" >40/60</text></svg></body></html>
